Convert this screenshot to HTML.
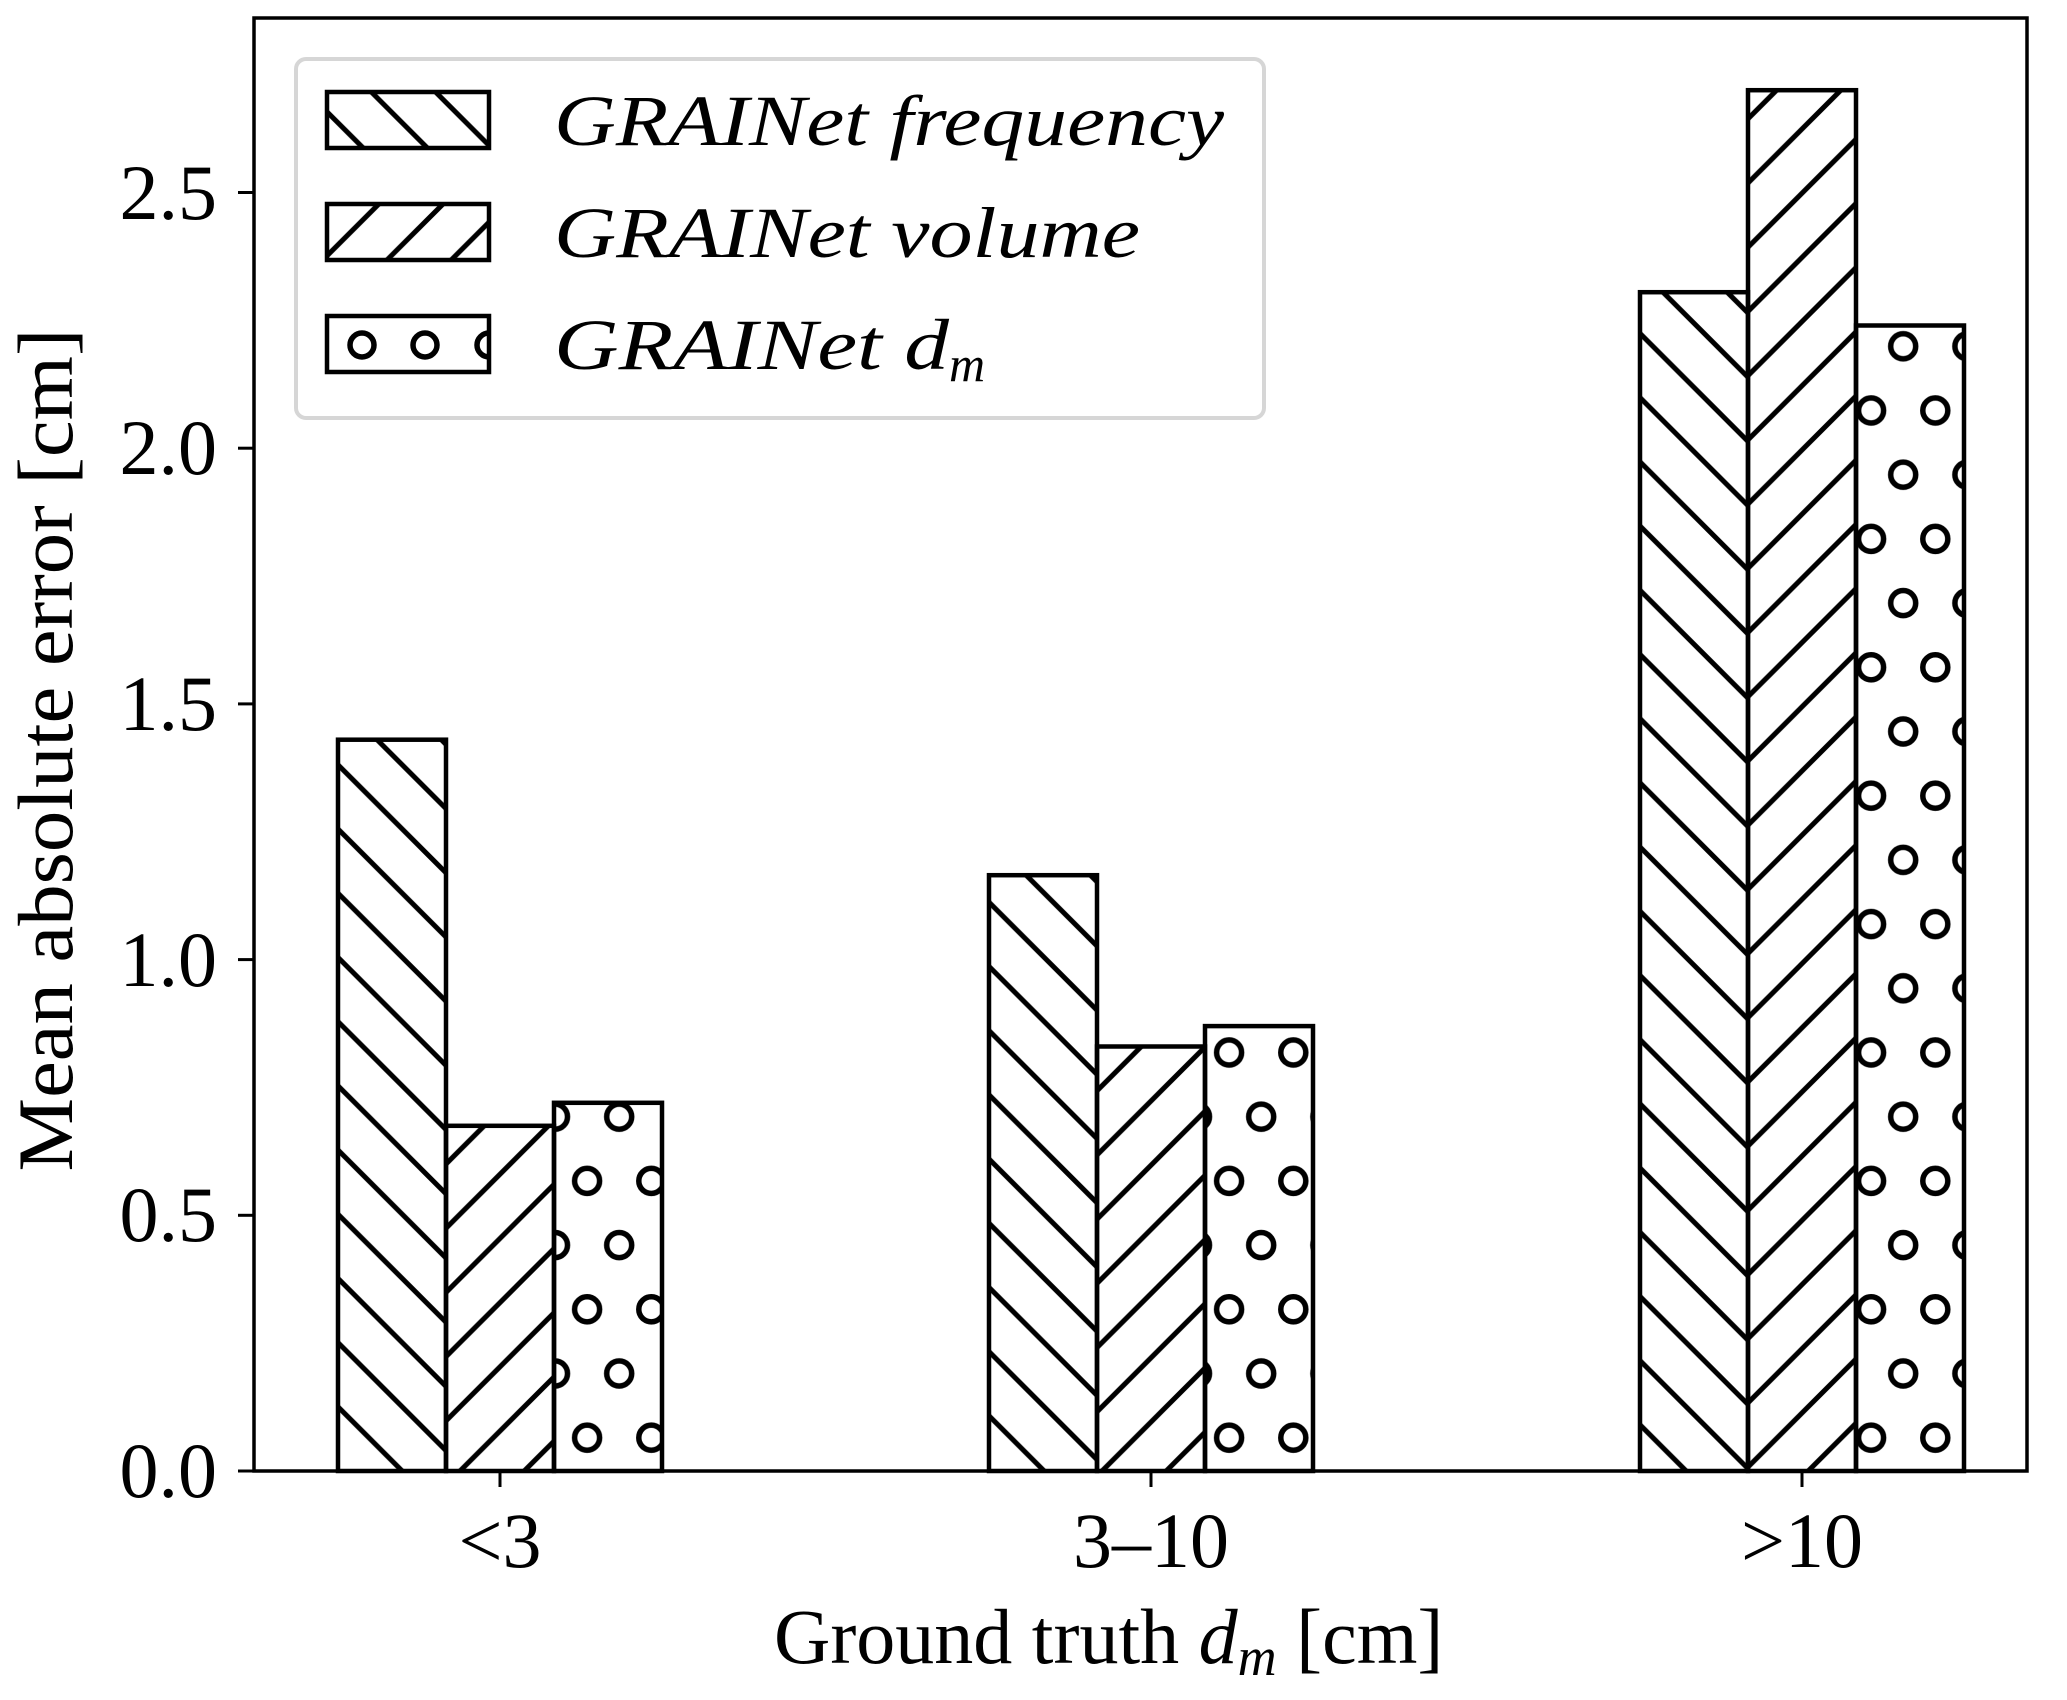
<!DOCTYPE html>
<html><head><meta charset="utf-8"><style>html,body{margin:0;padding:0;background:#fff}svg{display:block}</style></head>
<body>
<svg width="2067" height="1700" viewBox="0 0 2067 1700" xmlns="http://www.w3.org/2000/svg">
<defs>
<pattern id="bs" patternUnits="userSpaceOnUse" width="64.2" height="64.2">
<path d="M-10,31.6 L75,116.6 M-10,-32.6 L75,52.4 M-10,95.8 L75,180.8" stroke="#000" stroke-width="5" fill="none"/>
</pattern>
<pattern id="fs" patternUnits="userSpaceOnUse" width="64.2" height="64.2">
<path d="M-10,15 L75,-70 M-10,79.2 L75,-5.8 M-10,143.4 L75,58.4" stroke="#000" stroke-width="5" fill="none"/>
</pattern>
<pattern id="ci" patternUnits="userSpaceOnUse" width="64.2" height="128.4">
<g fill="none" stroke="#000" stroke-width="5.5">
<circle cx="41.4" cy="89.5" r="12.5"/><circle cx="-22.8" cy="89.5" r="12.5"/>
<circle cx="41.4" cy="-38.9" r="12.5"/><circle cx="-22.8" cy="-38.9" r="12.5"/>
<circle cx="9.3" cy="25.3" r="12.5"/><circle cx="73.5" cy="25.3" r="12.5"/>
<circle cx="9.3" cy="153.7" r="12.5"/><circle cx="73.5" cy="153.7" r="12.5"/>
</g>
</pattern>
</defs>
<g stroke="#000" stroke-width="4.5">
<rect x="338" y="739.7" width="108" height="731.3" fill="url(#bs)"/>
<rect x="446" y="1125.8" width="108" height="345.2" fill="url(#fs)"/>
<rect x="554" y="1102.8" width="108" height="368.2" fill="url(#ci)"/>
<rect x="989" y="875.2" width="108" height="595.8" fill="url(#bs)"/>
<rect x="1097" y="1046.5" width="108" height="424.5" fill="url(#fs)"/>
<rect x="1205" y="1026.1" width="108" height="444.9" fill="url(#ci)"/>
<rect x="1640" y="292.2" width="108" height="1178.8" fill="url(#bs)"/>
<rect x="1748" y="90.2" width="108" height="1380.8" fill="url(#fs)"/>
<rect x="1856" y="325.5" width="108" height="1145.5" fill="url(#ci)"/>
</g>
<rect x="254" y="18" width="1773" height="1453" fill="none" stroke="#000" stroke-width="3.5"/>
<g stroke="#000" stroke-width="3">
<line x1="238" y1="1471" x2="254" y2="1471"/>
<line x1="238" y1="1215.3" x2="254" y2="1215.3"/>
<line x1="238" y1="959.6" x2="254" y2="959.6"/>
<line x1="238" y1="703.9" x2="254" y2="703.9"/>
<line x1="238" y1="448.2" x2="254" y2="448.2"/>
<line x1="238" y1="192.5" x2="254" y2="192.5"/>
<line x1="500" y1="1471" x2="500" y2="1487"/>
<line x1="1151" y1="1471" x2="1151" y2="1487"/>
<line x1="1802" y1="1471" x2="1802" y2="1487"/>
</g>
<g font-family="Liberation Serif, serif" font-size="78" fill="#000" text-anchor="end">
<text x="217" y="1497">0.0</text>
<text x="217" y="1241">0.5</text>
<text x="217" y="986">1.0</text>
<text x="217" y="730">1.5</text>
<text x="217" y="474">2.0</text>
<text x="217" y="219">2.5</text>
</g>
<g font-family="Liberation Serif, serif" font-size="78" fill="#000" text-anchor="middle">
<text x="500" y="1567">&lt;3</text>
<text x="1151" y="1567">3–10</text>
<text x="1802" y="1567">&gt;10</text>
</g>
<text x="774" y="1663" font-family="Liberation Serif, serif" font-size="78" fill="#000">Ground truth <tspan font-style="italic">d</tspan><tspan font-style="italic" font-size="54" dy="12">m</tspan><tspan dy="-12"> [cm]</tspan></text>
<text transform="translate(72,750) rotate(-90)" text-anchor="middle" font-family="Liberation Serif, serif" font-size="78" fill="#000" textLength="843" lengthAdjust="spacingAndGlyphs">Mean absolute error [cm]</text>
<rect x="296" y="59" width="968" height="359" rx="10" fill="#fff" fill-opacity="0.85" stroke="#d6d6d6" stroke-width="4"/>
<g stroke="#000" stroke-width="4.5">
<rect x="327" y="92" width="162" height="56" fill="url(#bs)"/>
<rect x="327" y="204" width="162" height="56" fill="url(#fs)"/>
<rect x="327" y="316" width="162" height="56" fill="#fff"/>
</g>
<g fill="none" stroke="#000" stroke-width="5.5">
<circle cx="362" cy="345" r="12"/><circle cx="425" cy="345" r="12"/>
<path d="M489,333 A12,12 0 0 0 489,357"/>
</g>
<g font-family="Liberation Serif, serif" font-style="italic" font-size="72" fill="#000">
<text x="554" y="145" textLength="670" lengthAdjust="spacingAndGlyphs">GRAINet frequency</text>
<text x="554" y="257" textLength="586" lengthAdjust="spacingAndGlyphs">GRAINet volume</text>
<text x="554" y="369"><tspan textLength="395" lengthAdjust="spacingAndGlyphs">GRAINet d</tspan><tspan font-size="50" dy="12">m</tspan></text>
</g>
</svg>
</body></html>
